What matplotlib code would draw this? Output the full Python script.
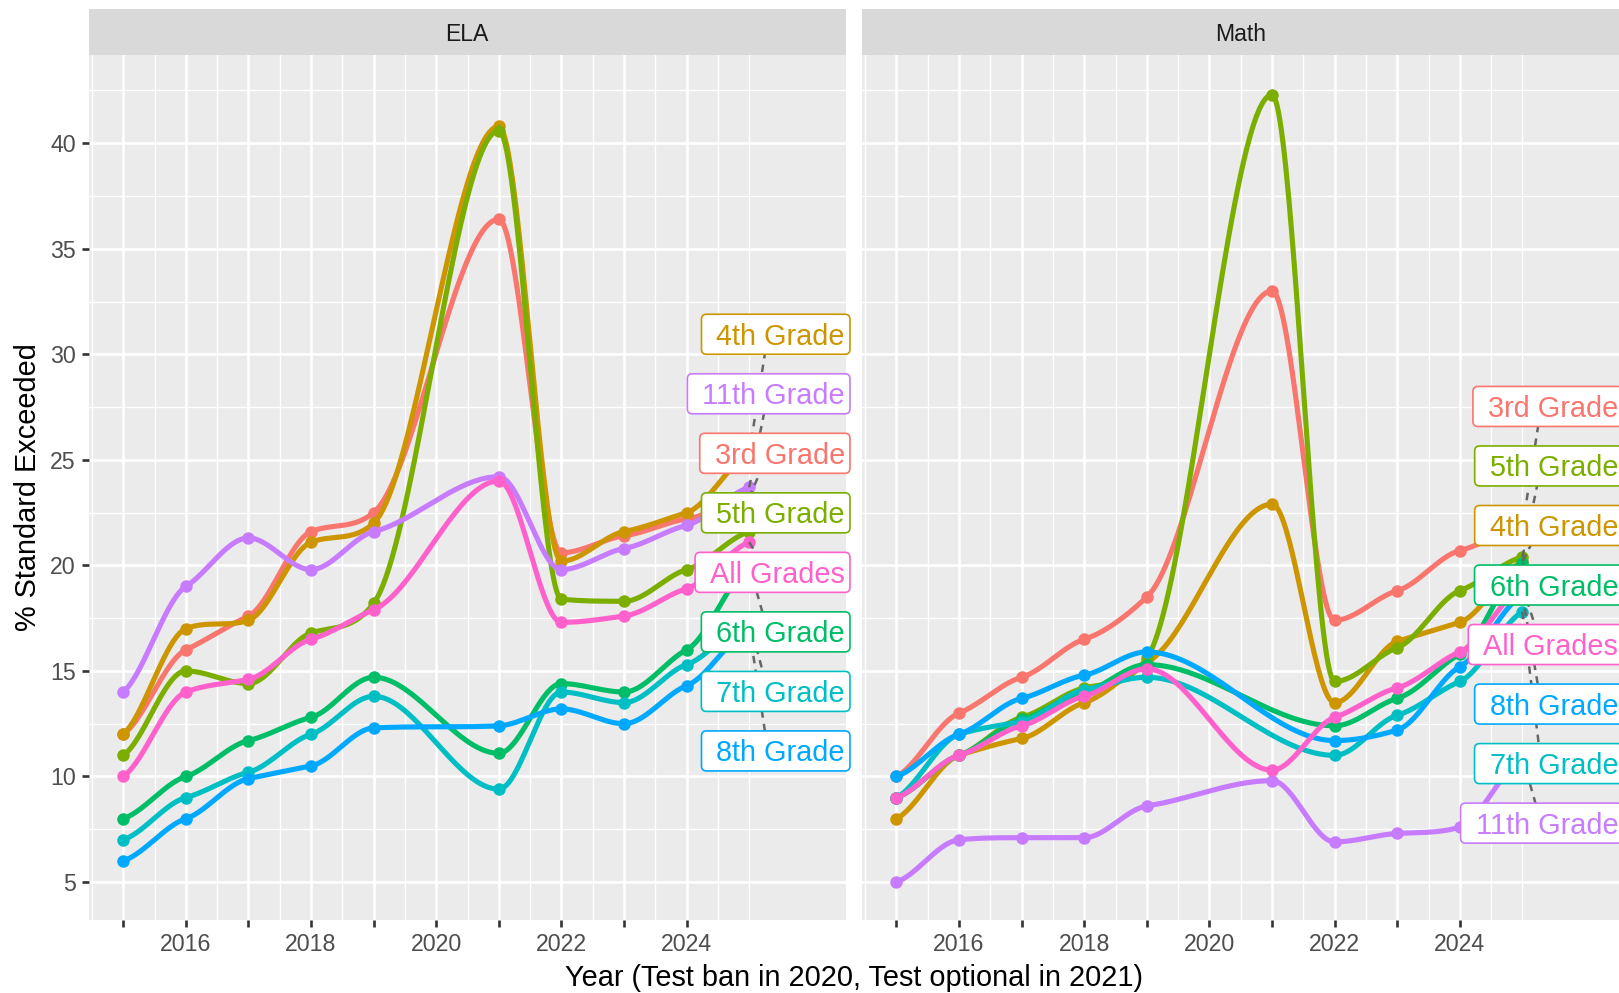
import numpy as np
import matplotlib.pyplot as plt
from matplotlib.patches import FancyBboxPatch
from matplotlib.transforms import IdentityTransform

plt.rcParams['font.family'] = ['Liberation Sans', 'DejaVu Sans']

# years with data (no test in 2020)
years = [2015, 2016, 2017, 2018, 2019, 2021, 2022, 2023, 2024, 2025]
grades = ['3rd Grade', '4th Grade', '5th Grade', '6th Grade',
          '7th Grade', '8th Grade', '11th Grade', 'All Grades']
colors = ['#F8766D', '#CD9600', '#7CAE00', '#00BE67',
          '#00BFC4', '#00A9FF', '#C77CFF', '#FF61CC']

# % standard exceeded, ELA
ela_3rd = [12, 16, 17.6, 21.6, 22.5, 36.4, 20.6, 21.4, 22.2, 23.2]
ela_4th = [12, 17, 17.4, 21.1, 22.0, 40.8, 20.2, 21.6, 22.5, 25.3]
ela_5th = [11, 15, 14.4, 16.8, 18.2, 40.6, 18.4, 18.3, 19.8, 21.6]
ela_6th = [8, 10, 11.7, 12.8, 14.7, 11.1, 14.4, 14.0, 16.0, 20.0]
ela_7th = [7, 9, 10.2, 12.0, 13.8, 9.4, 14.0, 13.5, 15.3, 17.4]
ela_8th = [6, 8, 9.9, 10.5, 12.3, 12.4, 13.2, 12.5, 14.3, 17.0]
ela_11th = [14, 19, 21.3, 19.8, 21.6, 24.2, 19.8, 20.8, 21.9, 23.7]
ela_all = [10, 14, 14.6, 16.5, 17.9, 24.0, 17.3, 17.6, 18.9, 21.1]

# % standard exceeded, Math (no 2021 value for grades 6-8)
nan = np.nan
math_3rd = [10, 13, 14.7, 16.5, 18.5, 33.0, 17.4, 18.8, 20.7, 21.8]
math_4th = [8, 11, 11.8, 13.5, 15.4, 22.9, 13.5, 16.4, 17.3, 20.2]
math_5th = [9, 11, 12.8, 14.2, 15.6, 42.3, 14.5, 16.1, 18.8, 20.4]
math_6th = [9, 11, 12.7, 14.0, 15.3, nan, 12.4, 13.7, 15.8, 20.1]
math_7th = [9, 12, 12.6, 14.1, 14.7, nan, 11.0, 12.9, 14.5, 17.8]
math_8th = [10, 12, 13.7, 14.8, 15.9, nan, 11.7, 12.2, 15.2, 18.6]
math_11th = [5, 7, 7.1, 7.1, 8.6, 9.8, 6.9, 7.3, 7.6, 10.9]
math_all = [9, 11, 12.4, 13.8, 15.1, 10.3, 12.8, 14.2, 15.9, 19.0]

panels = {
    'ELA': [ela_3rd, ela_4th, ela_5th, ela_6th, ela_7th, ela_8th, ela_11th, ela_all],
    'Math': [math_3rd, math_4th, math_5th, math_6th, math_7th, math_8th, math_11th, math_all],
}
label_top = {'ELA': 30.95, 'Math': 27.53}
label_step = 2.82


def spline(x, y, n=40, s=0.5):
    # cubic hermite through the points, softened and limited tangents
    x = np.asarray(x, float)
    y = np.asarray(y, float)
    ok = ~np.isnan(y)
    x, y = x[ok], y[ok]
    d = np.diff(y) / np.diff(x)
    m = np.zeros_like(y)
    for i in range(len(y)):
        a = max(i - 1, 0)
        b = min(i + 1, len(y) - 1)
        mi = s * (y[b] - y[a]) / (x[b] - x[a])
        for k in (i - 1, i):
            if 0 <= k < len(d):
                if d[k] * mi <= 0:
                    mi = 0.0
                else:
                    mi = np.sign(mi) * min(abs(mi), 3 * abs(d[k]))
        m[i] = mi
    xs, ys = [], []
    t = np.linspace(0, 1, n, endpoint=False)
    for i in range(len(y) - 1):
        h = x[i + 1] - x[i]
        h00 = 2 * t**3 - 3 * t**2 + 1
        h10 = t**3 - 2 * t**2 + t
        h01 = -2 * t**3 + 3 * t**2
        h11 = t**3 - t**2
        xs.append(x[i] + t * h)
        ys.append(h00 * y[i] + h10 * h * m[i] + h01 * y[i + 1] + h11 * h * m[i + 1])
    xs.append([x[-1]])
    ys.append([y[-1]])
    return np.concatenate(xs), np.concatenate(ys)


fig = plt.figure(figsize=(16.19, 9.93), dpi=100)
W, H = 1619, 993
pw = 756.8
lefts = [88.8, 862.0]
ptop, pbot = 55, 920
labels = []

for i, (name, series) in enumerate(panels.items()):
    ax = fig.add_axes([lefts[i] / W, 1 - pbot / H, pw / W, (pbot - ptop) / H])
    sx = fig.add_axes([lefts[i] / W, 1 - ptop / H, pw / W, 46 / H])
    sx.set_facecolor('#D9D9D9')
    sx.set_xticks([])
    sx.set_yticks([])
    for s in sx.spines.values():
        s.set_visible(False)
    sx.text(0.5, 0.45, name, ha='center', va='center', fontsize=16.6,
            color='#1A1A1A', transform=sx.transAxes)

    ax.set_facecolor('#EBEBEB')
    for s in ax.spines.values():
        s.set_visible(False)
    ax.set_xlim(2014.45, 2026.54)
    ax.set_ylim(3.2, 44.18)
    ax.set_xticks(range(2015, 2025))
    ax.set_xticklabels([str(y) if y % 2 == 0 else '' for y in range(2015, 2025)])
    ax.set_xticks(list(np.arange(2014.5, 2025, 1.0)) + [2025], minor=True)
    ax.set_yticks(range(5, 45, 5))
    ax.set_yticks(np.arange(7.5, 44, 5), minor=True)
    ax.grid(which='major', color='white', lw=1.9)
    ax.grid(which='minor', color='white', lw=1.0)
    ax.set_axisbelow(True)
    ax.tick_params(which='major', length=4.8, width=1.9, color='#333333',
                   labelsize=16.7, labelcolor='#4D4D4D')
    ax.tick_params(axis='x', pad=4.5)
    ax.tick_params(axis='y', pad=4.5)
    ax.tick_params(which='minor', length=0)
    if i == 1:
        ax.tick_params(axis='y', which='both', left=False, labelleft=False)

    for vals, c in zip(series, colors):
        xs, ys = spline(years, vals)
        ax.plot(xs, ys, color=c, lw=3.7, solid_capstyle='round', zorder=3)
        ax.plot(years, vals, 'o', color=c, ms=9, mec='none', zorder=3)

    # labels stacked at the right end, right edge of the boxes at x=2026.61
    order = sorted(range(len(grades)), key=lambda j: -series[j][-1])
    for r, j in enumerate(order):
        ly = label_top[name] - r * label_step
        xr, yd = ax.transData.transform((2026.61, ly))
        xt, yt = ax.transData.inverted().transform((xr - 5, yd - 10.5))
        ax.plot([2025, 2025.3], [series[j][-1], ly], ls=(0, (3, 2.5)),
                color='#666666', lw=1.8, zorder=5, clip_on=False)
        t = ax.text(xt, yt, grades[j], ha='right', va='baseline', fontsize=20.8,
                    color=colors[j], zorder=7, clip_on=False)
        labels.append((ax, t, colors[j], yd))

fig.text(853.9 / W, 1 - 977.5 / H, 'Year (Test ban in 2020, Test optional in 2021)',
         ha='center', va='center', fontsize=20.8, color='black')
fig.text(28.5 / W, 1 - 487.5 / H, '% Standard Exceeded', rotation=90,
         ha='center', va='center', fontsize=20.8, color='black')

fig.canvas.draw()
renderer = fig.canvas.get_renderer()
for ax, t, c, yd in labels:
    bb = t.get_window_extent(renderer)
    box = FancyBboxPatch((bb.x0 - 15, yd - 20), bb.width + 20, 40,
                         boxstyle='round,pad=0,rounding_size=5',
                         fc='white', ec=c, lw=1.2, zorder=6, clip_on=False,
                         transform=IdentityTransform())
    ax.add_patch(box)

fig.savefig('out.png', dpi=100)
